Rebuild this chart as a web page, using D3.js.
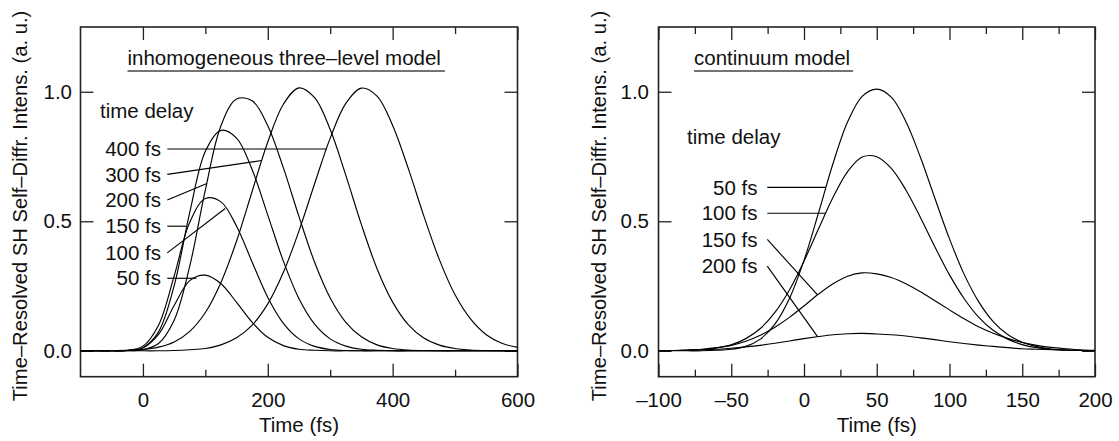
<!DOCTYPE html>
<html>
<head>
<meta charset="utf-8">
<script src="https://cdn.jsdelivr.net/npm/d3@7"></script>
<style>
  body { margin: 0; background: #fff; }
  svg { display: block; font-family: "Liberation Sans", Arial, Helvetica, sans-serif; }
</style>
</head>
<body>
<svg id="chart" width="1119" height="441"></svg>
<script>
// ---------- inhomogeneous three-level model (time in fs, intensity in a.u.) ----------
const timeA = [-100, -75, -50, -25, 0, 25, 50, 75, 100, 125, 150, 175, 200, 225, 250,
               275, 300, 325, 350, 375, 400, 425, 450, 475, 500, 525, 550, 575, 600];
const delay50A  = [0, 0, 0, 0.001, 0.011, 0.063, 0.175, 0.271, 0.292, 0.259, 0.187, 0.110, 0.052, 0.020, 0.006,
                   0.002, 0, 0, 0, 0, 0, 0, 0, 0, 0, 0, 0, 0, 0];
const delay100A = [0, 0, 0, 0.002, 0.018, 0.099, 0.288, 0.496, 0.588, 0.575, 0.481, 0.342, 0.206, 0.106, 0.046,
                   0.017, 0.005, 0.001, 0, 0, 0, 0, 0, 0, 0, 0, 0, 0, 0];
const delay150A = [0, 0, 0, 0.001, 0.012, 0.073, 0.251, 0.534, 0.770, 0.851, 0.821, 0.699, 0.524, 0.346, 0.201,
                   0.103, 0.046, 0.018, 0.006, 0.002, 0, 0, 0, 0, 0, 0, 0, 0, 0];
const delay200A = [0, 0, 0, 0, 0.004, 0.028, 0.118, 0.327, 0.621, 0.869, 0.972, 0.965, 0.869, 0.706, 0.518,
                   0.342, 0.204, 0.110, 0.054, 0.023, 0.009, 0.003, 0.001, 0, 0, 0, 0, 0, 0];
const delay300A = [0, 0, 0.001, 0.002, 0.005, 0.014, 0.034, 0.075, 0.148, 0.264, 0.424, 0.616, 0.806, 0.952, 1.015,
                   0.977, 0.854, 0.677, 0.487, 0.317, 0.188, 0.101, 0.049, 0.022, 0.009, 0.003, 0.001, 0, 0];
const delay400A = [0, 0, 0, 0, 0, 0, 0.001, 0.004, 0.009, 0.023, 0.050, 0.099, 0.181, 0.303, 0.463,
                   0.645, 0.821, 0.955, 1.014, 0.983, 0.870, 0.704, 0.520, 0.351, 0.216, 0.122, 0.062, 0.029, 0.013];

// ---------- continuum model ----------
const timeB = [-100, -90, -80, -70, -60, -50, -40, -30, -20, -10, 0, 10, 20, 30, 40, 50,
               60, 70, 80, 90, 100, 110, 120, 130, 140, 150, 160, 170, 180, 190, 200];
const delay50B  = [0, 0, 0, 0, 0.002, 0.006, 0.017, 0.045, 0.103, 0.202, 0.349, 0.533, 0.724, 0.884, 0.982, 1.010,
                   0.979, 0.885, 0.747, 0.588, 0.432, 0.296, 0.190, 0.113, 0.063, 0.033, 0.016, 0.007, 0.003, 0.001, 0];
const delay100B = [0, 0.001, 0.002, 0.005, 0.011, 0.023, 0.047, 0.086, 0.148, 0.235, 0.346, 0.471, 0.593, 0.692, 0.748, 0.749,
                   0.704, 0.621, 0.515, 0.401, 0.293, 0.202, 0.130, 0.079, 0.045, 0.024, 0.012, 0.006, 0.003, 0.001, 0];
const delay150B = [0.001, 0.001, 0.003, 0.006, 0.012, 0.021, 0.037, 0.060, 0.091, 0.129, 0.173, 0.219, 0.259, 0.288, 0.301, 0.297,
                   0.283, 0.259, 0.228, 0.193, 0.158, 0.124, 0.093, 0.068, 0.048, 0.032, 0.021, 0.013, 0.008, 0.004, 0.002];
const delay200B = [0.001, 0.001, 0.002, 0.004, 0.006, 0.010, 0.015, 0.021, 0.029, 0.038, 0.047, 0.055, 0.062, 0.066, 0.067, 0.065,
                   0.062, 0.057, 0.050, 0.043, 0.035, 0.028, 0.022, 0.017, 0.012, 0.008, 0.006, 0.004, 0.002, 0.001, 0.001];

// ---------- axis ticks and labels ----------
const yTicks = [0, 0.5, 1.0];
const xMajorA = [0, 200, 400, 600];
const xMinorA = [100, 300, 500];
const xMajorB = [-100, -50, 0, 50, 100, 150, 200];
const xMinorB = [-75, -25, 25, 75, 125, 175];
const yTitle = "Time\u2013Resolved SH Self\u2013Diffr. Intens. (a. u.)";
const xTitle = "Time (fs)";
const titleA = "inhomogeneous three\u2013level model";
const titleB = "continuum model";
const delayHeading = "time delay";
const delayLabelsA = ["400 fs", "300 fs", "200 fs", "150 fs", "100 fs", "50 fs"];
const delayLabelsB = ["50 fs", "100 fs", "150 fs", "200 fs"];

// ---------- drawing ----------
const svg = d3.select("#chart");
const FONT = 20.5;
const INK = "#111";
const plotTop = 27, plotBottom = 376.7;
const yDomain = [-0.1, 1.25];
const dash = s => String(s).replace("-", "\u2013");

// value of a sampled curve at time t (linear between samples)
function valueAt(times, vals, t) {
  for (let i = 1; i < times.length; i++) {
    if (t <= times[i]) {
      const f = (t - times[i - 1]) / (times[i] - times[i - 1]);
      return vals[i - 1] + f * (vals[i] - vals[i - 1]);
    }
  }
  return vals[vals.length - 1];
}
// first time at which a sampled curve rises through level v
function timeAtLevel(times, vals, v) {
  for (let i = 1; i < vals.length; i++) {
    if (vals[i - 1] <= v && vals[i] >= v) {
      return times[i - 1] + (v - vals[i - 1]) / (vals[i] - vals[i - 1]) * (times[i] - times[i - 1]);
    }
  }
  return times[0];
}

function drawPanel(p) {
  const g = svg.append("g");
  const x = d3.scaleLinear().domain(p.xDomain).range([p.left, p.right]);
  const y = d3.scaleLinear().domain(yDomain).range([plotBottom, plotTop]);

  const styleAxis = sel => {
    sel.select(".domain").remove();
    sel.selectAll(".tick line").attr("stroke", "#222").attr("stroke-width", 1.3);
    sel.selectAll(".tick text").attr("fill", INK).attr("font-size", FONT)
       .attr("font-family", "Liberation Sans, Arial, sans-serif");
    sel.attr("font-size", null).attr("font-family", null);
  };
  const none = () => "";

  // bottom and top ticks (inward)
  g.append("g").attr("transform", `translate(0,${plotBottom})`)
    .call(d3.axisBottom(x).tickValues(p.xMajor).tickSize(-13).tickPadding(15.5).tickFormat(dash)).call(styleAxis);
  g.append("g").attr("transform", `translate(0,${plotBottom})`)
    .call(d3.axisBottom(x).tickValues(p.xMinor).tickSize(-7).tickFormat(none)).call(styleAxis);
  g.append("g").attr("transform", `translate(0,${plotTop})`)
    .call(d3.axisTop(x).tickValues(p.xMajor).tickSize(-13).tickFormat(none)).call(styleAxis);
  g.append("g").attr("transform", `translate(0,${plotTop})`)
    .call(d3.axisTop(x).tickValues(p.xMinor).tickSize(-7).tickFormat(none)).call(styleAxis);
  // left and right ticks
  g.append("g").attr("transform", `translate(${p.left},0)`)
    .call(d3.axisLeft(y).tickValues(yTicks).tickSize(-13).tickPadding(p.yPad).tickFormat(d3.format(".1f"))).call(styleAxis);
  g.append("g").attr("transform", `translate(${p.right},0)`)
    .call(d3.axisRight(y).tickValues(yTicks).tickSize(-13).tickFormat(none)).call(styleAxis);

  // frame
  g.append("rect").attr("x", p.left).attr("y", plotTop)
    .attr("width", p.right - p.left).attr("height", plotBottom - plotTop)
    .attr("fill", "none").attr("stroke", "#222").attr("stroke-width", 1.6);

  // curves
  const line = d3.line().x(d => x(d[0])).y(d => y(d[1])).curve(d3.curveCatmullRom.alpha(0.5));
  p.series.forEach(vals => {
    g.append("path").datum(p.times.map((t, i) => [t, vals[i]]))
      .attr("d", line).attr("fill", "none").attr("stroke", "#000").attr("stroke-width", 1.15);
  });

  // axis titles
  g.append("text").attr("x", (p.left + p.right) / 2).attr("y", 431.5)
    .attr("text-anchor", "middle").attr("font-size", FONT).attr("fill", INK).text(xTitle);
  g.append("text").attr("transform", `translate(${p.yTitleX},206) rotate(-90)`)
    .attr("text-anchor", "middle").attr("font-size", 20.2).attr("fill", INK).text(yTitle);

  // underlined panel title
  const tt = g.append("text").attr("x", p.titleX).attr("y", 65)
    .attr("font-size", FONT).attr("fill", INK).text(p.title);
  const tw = tt.node().getComputedTextLength();
  g.append("line").attr("x1", p.titleX).attr("x2", p.titleX + tw + p.underlineExtra)
    .attr("y1", 71).attr("y2", 71).attr("stroke", "#444").attr("stroke-width", 1.6);

  // "time delay" heading
  g.append("text").attr("x", p.headX).attr("y", p.headY)
    .attr("font-size", FONT).attr("fill", INK).text(delayHeading);

  // delay labels with pointer lines to their curves
  p.labels.forEach((lab, i) => {
    const a = p.annot[i];
    const vals = p.series[a.s];
    const ly = y(a.v);
    g.append("text").attr("x", p.labelX).attr("y", ly + 7.2)
      .attr("text-anchor", "end").attr("font-size", FONT).attr("fill", INK).text(lab);
    let tx, ty;
    if (a.flat) { tx = timeAtLevel(p.times, vals, a.v); ty = a.v; }
    else { tx = a.t; ty = valueAt(p.times, vals, a.t); }
    g.append("line").attr("x1", p.lineX).attr("y1", ly)
      .attr("x2", x(tx)).attr("y2", y(ty))
      .attr("stroke", "#000").attr("stroke-width", 1.15);
  });
}

drawPanel({
  xDomain: [-100, 600], left: 80.5, right: 517.5,
  xMajor: xMajorA, xMinor: xMinorA, yPad: 8.5, yTitleX: 27,
  times: timeA,
  series: [delay50A, delay100A, delay150A, delay200A, delay300A, delay400A],
  title: titleA, titleX: 127.5, underlineExtra: 4,
  headX: 100, headY: 117.5,
  labels: delayLabelsA, labelX: 161, lineX: 167.3,
  annot: [
    { s: 5, v: 0.779, flat: true },
    { s: 4, v: 0.681, t: 190.6 },
    { s: 3, v: 0.582, t: 102.5 },
    { s: 2, v: 0.481, flat: true },
    { s: 1, v: 0.378, t: 131.8 },
    { s: 0, v: 0.280, flat: true }
  ]
});

drawPanel({
  xDomain: [-100, 200], left: 658.5, right: 1095,
  xMajor: xMajorB, xMinor: xMinorB, yPad: 9.5, yTitleX: 606,
  times: timeB,
  series: [delay50B, delay100B, delay150B, delay200B],
  title: titleB, titleX: 694, underlineExtra: 3,
  headX: 687, headY: 143.5,
  labels: delayLabelsB, labelX: 757.5, lineX: 767.3,
  annot: [
    { s: 0, v: 0.631, flat: true },
    { s: 1, v: 0.531, flat: true },
    { s: 2, v: 0.430, t: 9.3 },
    { s: 3, v: 0.327, t: 9.3 }
  ]
});
</script>
</body>
</html>
